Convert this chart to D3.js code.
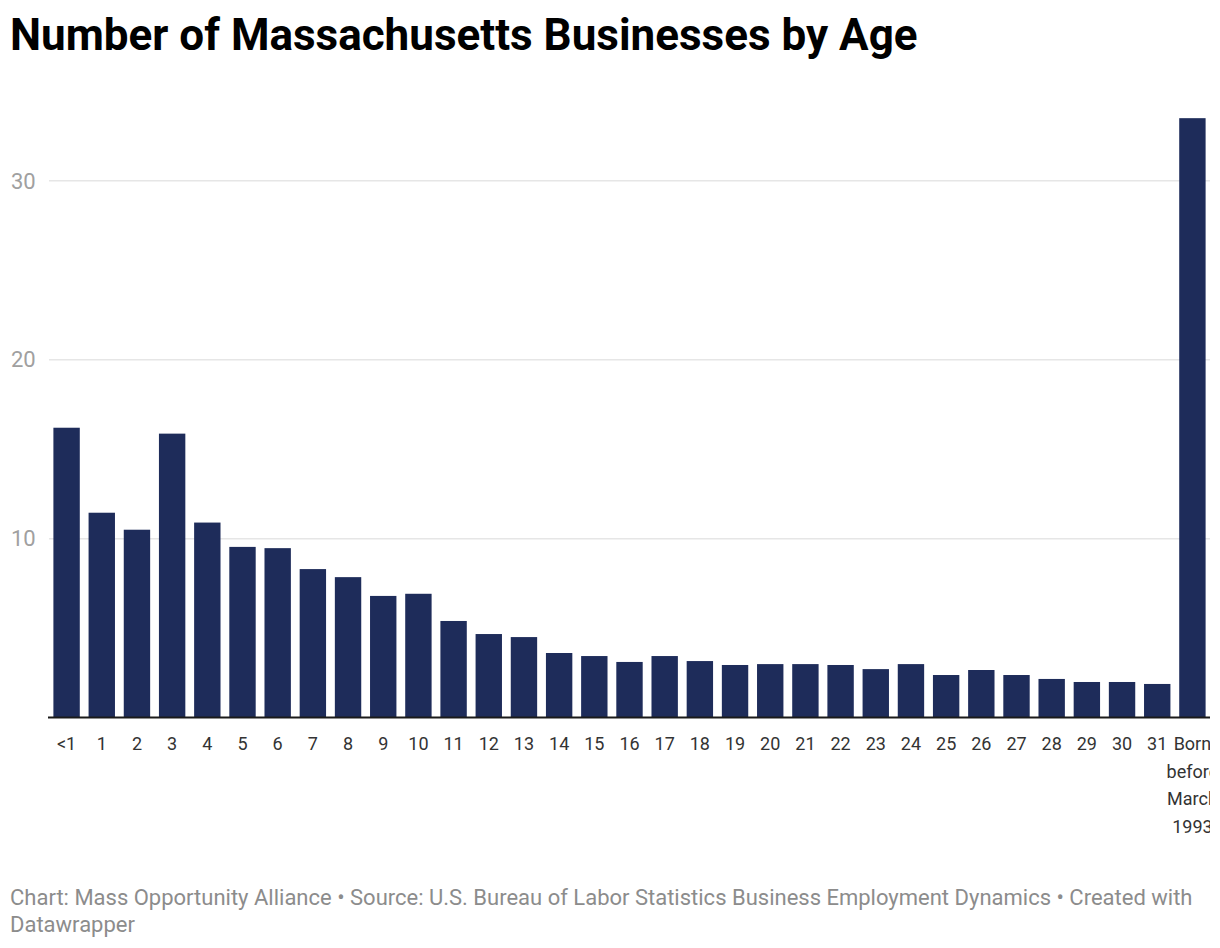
<!DOCTYPE html>
<html>
  <head>
    <meta charset="utf-8">
    <title>Number of Massachusetts Businesses by Age</title>
    <script src="https://cdn.jsdelivr.net/npm/d3@7"></script>
    <style type="text/css">
      body { margin: 0; background: #fff; }
      svg { display: block; font-family: Roboto, sans-serif; }
    </style>
  </head>
  <body>
    <script type="text/javascript">

      // Data (share of businesses, %)
      var ages = ["<1", "1", "2", "3", "4", "5", "6", "7", "8", "9", "10",
                  "11", "12", "13", "14", "15", "16", "17", "18", "19", "20",
                  "21", "22", "23", "24", "25", "26", "27", "28", "29", "30",
                  "31", "Born before March 1993"];
      var values = [16.2, 11.45, 10.5, 15.87, 10.9, 9.54, 9.47, 8.3, 7.85, 6.8, 6.92,
                    5.4, 4.67, 4.5, 3.61, 3.44, 3.11, 3.44, 3.16, 2.94, 2.99,
                    2.99, 2.94, 2.71, 2.99, 2.38, 2.66, 2.38, 2.16, 1.99, 1.99,
                    1.88, 33.5];
      var yTicks = [10, 20, 30];

      var width = 1220, height = 948;
      var margin = { left: 49, right: 10, top: 100, bottom: 230 };

      var svg = d3.select("body").append("svg")
          .attr("width", width)
          .attr("height", height);

      var x = d3.scaleBand()
          .domain(ages)
          .range([margin.left, width - margin.right])
          .paddingInner(0.25)
          .paddingOuter(0.125);

      var y = d3.scaleLinear()
          .domain([0, 30])
          .range([717.6, 180.8]);

      // Title
      svg.append("text")
          .attr("x", 10)
          .attr("y", 50)
          .style("font-size", "44px")
          .style("font-weight", "bold")
          .style("fill", "#000")
          .text("Number of Massachusetts Businesses by Age");

      // Grid lines + y labels
      var grid = svg.append("g");
      grid.selectAll("line")
          .data(yTicks)
          .enter().append("line")
          .attr("x1", margin.left)
          .attr("x2", width - margin.right)
          .attr("y1", function(d) { return y(d); })
          .attr("y2", function(d) { return y(d); })
          .style("stroke", "#e6e6e6")
          .style("stroke-width", 1.5);
      grid.selectAll("text")
          .data(yTicks)
          .enter().append("text")
          .attr("x", 11)
          .attr("y", function(d) { return y(d); })
          .attr("dy", "0.35em")
          .style("font-size", "22px")
          .style("fill", "#a0a0a0")
          .text(function(d) { return d; });

      // Clip so the last label is cut at the chart edge
      svg.append("clipPath").attr("id", "plotclip")
        .append("rect")
          .attr("x", 0).attr("y", 0)
          .attr("width", width - margin.right).attr("height", height);

      // Bars
      svg.append("g").selectAll("rect")
          .data(values)
          .enter().append("rect")
          .attr("x", function(d, i) { return x(ages[i]); })
          .attr("width", x.bandwidth())
          .attr("y", function(d) { return y(d); })
          .attr("height", function(d) { return y(0) - y(d); })
          .style("fill", "#1e2c5a");

      // Baseline
      svg.append("line")
          .attr("x1", 48).attr("x2", width - margin.right)
          .attr("y1", y(0)).attr("y2", y(0))
          .style("stroke", "#1a1a1a")
          .style("stroke-width", 2);

      // X labels
      var xl = svg.append("g").attr("clip-path", "url(#plotclip)");
      xl.selectAll("text")
          .data(ages)
          .enter().append("text")
          .attr("x", function(d) { return x(d) + x.bandwidth() / 2; })
          .attr("y", 750)
          .attr("text-anchor", "middle")
          .style("font-size", "18px")
          .style("fill", "#333")
          .each(function(d) {
            var words = d === "Born before March 1993" ? ["Born", "before", "March", "1993"] : [d];
            var t = d3.select(this);
            words.forEach(function(w, i) {
              t.append("tspan")
                .attr("x", t.attr("x"))
                .attr("dy", i === 0 ? 0 : 27.7)
                .text(w);
            });
          });

      // Footer
      var foot = svg.append("text")
          .attr("x", 10)
          .attr("y", 905)
          .style("font-size", "22px")
          .style("fill", "#8c8c8c");
      foot.append("tspan").attr("x", 10)
          .text("Chart: Mass Opportunity Alliance \u2022 Source: U.S. Bureau of Labor Statistics Business Employment Dynamics \u2022 Created with");
      foot.append("tspan").attr("x", 10).attr("dy", 26.5)
          .text("Datawrapper");

    </script>
  </body>
</html>
